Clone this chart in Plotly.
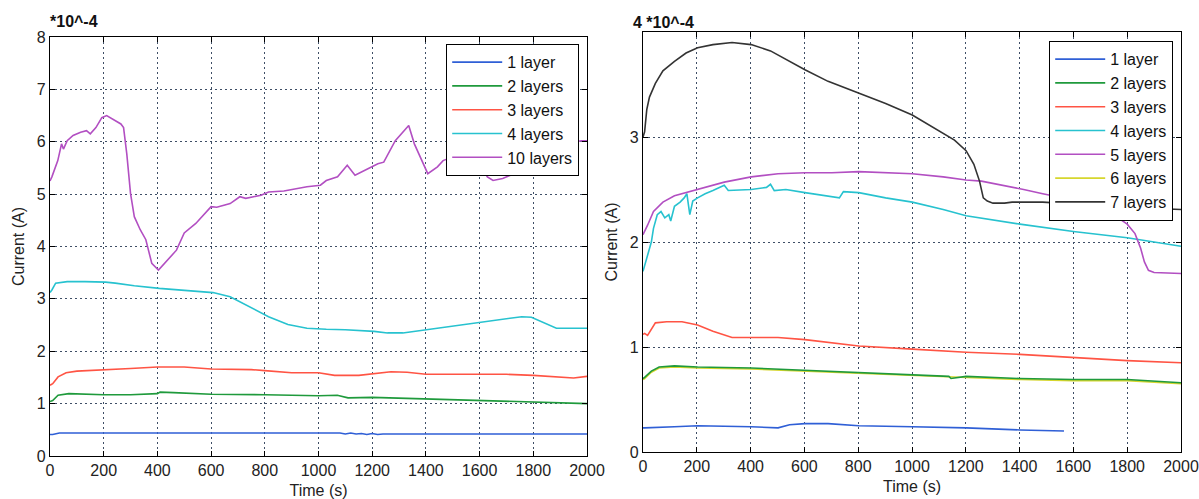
import plotly.graph_objects as go

# ---------------- Left panel data (units of 1e-4 A) ----------------
L1_t = [0, 10, 35, 200, 400, 600, 800, 1000, 1080, 1100, 1120, 1140, 1160, 1180, 1200, 1220, 1240, 1400, 1600, 1800, 2000]
L1_v = [0.41, 0.41, 0.44, 0.44, 0.44, 0.44, 0.44, 0.44, 0.44, 0.42, 0.44, 0.42, 0.43, 0.41, 0.43, 0.41, 0.42, 0.42, 0.42, 0.42, 0.42]

L2_t = [0, 10, 30, 70, 200, 300, 400, 410, 460, 600, 800, 1000, 1070, 1090, 1110, 1200, 1400, 1600, 1800, 1900, 2000]
L2_v = [1.04, 1.06, 1.16, 1.19, 1.17, 1.17, 1.19, 1.22, 1.21, 1.18, 1.17, 1.15, 1.16, 1.14, 1.11, 1.12, 1.09, 1.07, 1.04, 1.02, 1.00]

L3_t = [0, 10, 30, 60, 100, 200, 300, 400, 500, 600, 750, 800, 900, 1000, 1060, 1150, 1200, 1270, 1330, 1400, 1500, 1700, 1800, 1900, 1950, 2000]
L3_v = [1.35, 1.38, 1.51, 1.59, 1.62, 1.64, 1.67, 1.70, 1.70, 1.66, 1.65, 1.63, 1.59, 1.59, 1.54, 1.54, 1.57, 1.61, 1.60, 1.56, 1.56, 1.56, 1.54, 1.50, 1.49, 1.52]

L4_t = [0, 7, 21, 64, 130, 207, 243, 314, 407, 529, 607, 671, 743, 814, 886, 957, 1029, 1100, 1207, 1257, 1314, 1386, 1457, 1529, 1607, 1671, 1757, 1793, 1843, 1886, 2000]
L4_v = [3.12, 3.17, 3.30, 3.33, 3.33, 3.32, 3.30, 3.25, 3.20, 3.16, 3.12, 3.04, 2.85, 2.66, 2.51, 2.44, 2.42, 2.41, 2.38, 2.35, 2.35, 2.40, 2.46, 2.51, 2.55, 2.60, 2.66, 2.65, 2.53, 2.44, 2.44]

L10_t = [0, 7, 29, 43, 50, 64, 86, 114, 136, 150, 171, 193, 211, 236, 264, 274, 286, 300, 314, 336, 357, 379, 404, 471, 500, 543, 600, 621, 671, 707, 729, 786, 814, 871, 914, 957, 1007, 1029, 1071, 1107, 1136, 1186, 1221, 1243, 1286, 1336, 1357, 1407, 1443, 1464, 1520, 1580, 1607, 1629, 1650, 1686, 1714, 1736, 1800, 1900, 1979, 2000]
L10_v = [5.25, 5.33, 5.64, 5.96, 5.86, 6.02, 6.12, 6.18, 6.21, 6.15, 6.27, 6.46, 6.50, 6.43, 6.34, 6.27, 5.77, 5.01, 4.57, 4.32, 4.13, 3.68, 3.55, 3.93, 4.26, 4.44, 4.76, 4.75, 4.82, 4.95, 4.92, 4.98, 5.04, 5.06, 5.10, 5.14, 5.17, 5.26, 5.33, 5.55, 5.36, 5.49, 5.58, 5.61, 6.02, 6.31, 5.96, 5.39, 5.52, 5.64, 5.75, 5.65, 5.52, 5.33, 5.26, 5.30, 5.36, 5.58, 5.80, 5.95, 6.02, 6.02]

# ---------------- Right panel data (units of 1e-4 A) ----------------
R1_t = [0, 6, 117, 203, 402, 502, 545, 602, 688, 802, 1001, 1201, 1401, 1565]
R1_v = [0.23, 0.23, 0.24, 0.25, 0.24, 0.23, 0.26, 0.27, 0.27, 0.25, 0.24, 0.23, 0.21, 0.20]

R2_t = [0, 6, 31, 60, 117, 203, 402, 602, 802, 1001, 1137, 1145, 1201, 1401, 1600, 1800, 2000]
R2_v = [0.70, 0.71, 0.77, 0.81, 0.82, 0.81, 0.80, 0.78, 0.76, 0.74, 0.72, 0.70, 0.72, 0.70, 0.69, 0.69, 0.66]

R3_t = [0, 6, 17, 46, 88, 145, 203, 260, 331, 402, 502, 602, 802, 1001, 1201, 1401, 1600, 1800, 2000]
R3_v = [1.12, 1.13, 1.11, 1.23, 1.24, 1.24, 1.21, 1.15, 1.09, 1.09, 1.09, 1.07, 1.01, 0.98, 0.95, 0.93, 0.90, 0.87, 0.85]

R4_t = [0, 6, 14, 24, 31, 39, 53, 67, 81, 96, 103, 117, 138, 153, 163, 174, 185, 203, 231, 260, 302, 317, 374, 402, 459, 474, 488, 531, 602, 688, 730, 745, 802, 902, 1001, 1116, 1201, 1401, 1600, 1800, 2000]
R4_v = [1.72, 1.77, 1.84, 1.94, 2.00, 2.13, 2.26, 2.29, 2.23, 2.26, 2.20, 2.34, 2.38, 2.42, 2.46, 2.26, 2.39, 2.42, 2.46, 2.49, 2.54, 2.49, 2.50, 2.50, 2.52, 2.55, 2.49, 2.50, 2.47, 2.44, 2.42, 2.48, 2.47, 2.42, 2.38, 2.31, 2.25, 2.17, 2.10, 2.04, 1.96]

R5_t = [0, 6, 17, 39, 74, 117, 203, 302, 402, 502, 602, 702, 802, 902, 1001, 1116, 1201, 1258, 1344, 1415, 1486, 1600, 1686, 1743, 1800, 1829, 1850, 1864, 1879, 1900, 2000]
R5_v = [2.07, 2.10, 2.16, 2.29, 2.38, 2.44, 2.50, 2.57, 2.62, 2.65, 2.66, 2.66, 2.67, 2.66, 2.65, 2.62, 2.59, 2.58, 2.54, 2.50, 2.46, 2.40, 2.33, 2.27, 2.17, 2.08, 1.94, 1.81, 1.73, 1.71, 1.70]

R6_t = [0, 6, 31, 60, 117, 203, 402, 602, 802, 1001, 1201, 1401, 1600, 1800, 2000]
R6_v = [0.69, 0.70, 0.76, 0.80, 0.81, 0.80, 0.79, 0.77, 0.75, 0.73, 0.71, 0.69, 0.68, 0.68, 0.65]

R7_t = [0, 6, 14, 24, 46, 74, 117, 160, 203, 260, 331, 402, 474, 545, 602, 688, 802, 902, 1001, 1087, 1158, 1201, 1230, 1251, 1265, 1280, 1301, 1344, 1372, 1486, 1600, 1800, 2000]
R7_v = [3.00, 3.05, 3.26, 3.38, 3.51, 3.63, 3.72, 3.80, 3.85, 3.88, 3.90, 3.88, 3.82, 3.72, 3.64, 3.53, 3.42, 3.32, 3.21, 3.08, 2.97, 2.87, 2.74, 2.58, 2.42, 2.39, 2.37, 2.37, 2.38, 2.38, 2.36, 2.33, 2.31]

left_names = ["1 layer", "2 layers", "3 layers", "4 layers", "10 layers"]
right_names = ["1 layer", "2 layers", "3 layers", "4 layers", "5 layers", "6 layers", "7 layers"]

C_BLUE = "#2f5fd6"
C_GREEN = "#1f9a3c"
C_RED = "#ff5444"
C_CYAN = "#27c2cf"
C_MAG = "#b24fc2"
C_YEL = "#d6d62e"
C_BLK = "#333333"

FONT = "Liberation Sans, Arial, sans-serif"

fig = go.Figure()

left_series = [(L1_t, L1_v, C_BLUE), (L2_t, L2_v, C_GREEN), (L3_t, L3_v, C_RED),
               (L4_t, L4_v, C_CYAN), (L10_t, L10_v, C_MAG)]
for i, (t, v, c) in enumerate(left_series):
    fig.add_trace(go.Scatter(x=t, y=v, mode="lines", name=left_names[i],
                             line=dict(color=c, width=1.6), xaxis="x", yaxis="y",
                             legend="legend", legendrank=i + 1))

# 6 layers drawn first so that it lies beneath the green trace
right_series = [(R6_t, R6_v, C_YEL, 5), (R1_t, R1_v, C_BLUE, 0), (R2_t, R2_v, C_GREEN, 1),
                (R3_t, R3_v, C_RED, 2), (R4_t, R4_v, C_CYAN, 3), (R5_t, R5_v, C_MAG, 4),
                (R7_t, R7_v, C_BLK, 6)]
for t, v, c, k in right_series:
    fig.add_trace(go.Scatter(x=t, y=v, mode="lines", name=right_names[k],
                             line=dict(color=c, width=1.6), xaxis="x2", yaxis="y2",
                             legend="legend2", legendrank=k + 1))

W, H = 1199, 499

def px_x(p):
    return p / W

def px_y(p):
    return 1 - p / H

axis_common = dict(showline=True, linecolor="black", linewidth=1.2, mirror="ticks",
                   ticks="inside", ticklen=5, tickcolor="black", automargin=False,
                   showgrid=True, gridcolor="#3e4e66", gridwidth=1, griddash="2px,3px",
                   zeroline=False, tickfont=dict(family=FONT, size=16, color="#222"),
                   title_font=dict(family=FONT, size=16, color="#222"))

fig.update_layout(
    width=W, height=H, autosize=False,
    margin=dict(l=0, r=0, t=0, b=0),
    paper_bgcolor="white", plot_bgcolor="white",
    showlegend=True,
    xaxis=dict(domain=[px_x(50), px_x(587)], range=[0, 2000], tickvals=list(range(0, 2001, 200)),
               anchor="y", title=dict(text="Time (s)", standoff=6), **axis_common),
    yaxis=dict(domain=[px_y(456), px_y(37)], range=[0, 8], tickvals=list(range(0, 9)),
               anchor="x", title=dict(text="Current (A)", standoff=8), **axis_common),
    xaxis2=dict(domain=[px_x(643), px_x(1181)], range=[0, 2000], tickvals=list(range(0, 2001, 200)),
                anchor="y2", title=dict(text="Time (s)", standoff=6), **axis_common),
    yaxis2=dict(domain=[px_y(452), px_y(32)], range=[0, 4], tickvals=[0, 1, 2, 3],
                anchor="x2", title=dict(text="Current (A)", standoff=8), **axis_common),
    legend=dict(x=px_x(579), y=px_y(44), xanchor="right", yanchor="top",
                bgcolor="white", bordercolor="black", borderwidth=1.2,
                font=dict(family=FONT, size=16, color="#111"), itemwidth=50,
                tracegroupgap=0, traceorder="normal"),
    legend2=dict(x=px_x(1173), y=px_y(41), xanchor="right", yanchor="top",
                 bgcolor="white", bordercolor="black", borderwidth=1.2,
                 font=dict(family=FONT, size=16, color="#111"), itemwidth=50,
                 tracegroupgap=0, traceorder="normal"),
    annotations=[
        dict(text="<b>*10^-4</b>", x=px_x(48), y=px_y(21), xref="paper", yref="paper",
             xanchor="left", yanchor="middle", showarrow=False,
             font=dict(family=FONT, size=16, color="#111")),
        dict(text="<b>4 *10^-4</b>", x=px_x(631), y=px_y(22), xref="paper", yref="paper",
             xanchor="left", yanchor="middle", showarrow=False,
             font=dict(family=FONT, size=16, color="#111")),
    ],
)

fig.write_html("out.html", config={"displayModeBar": False},
               post_script="document.body.style.margin='0';document.body.style.overflow='hidden';")
